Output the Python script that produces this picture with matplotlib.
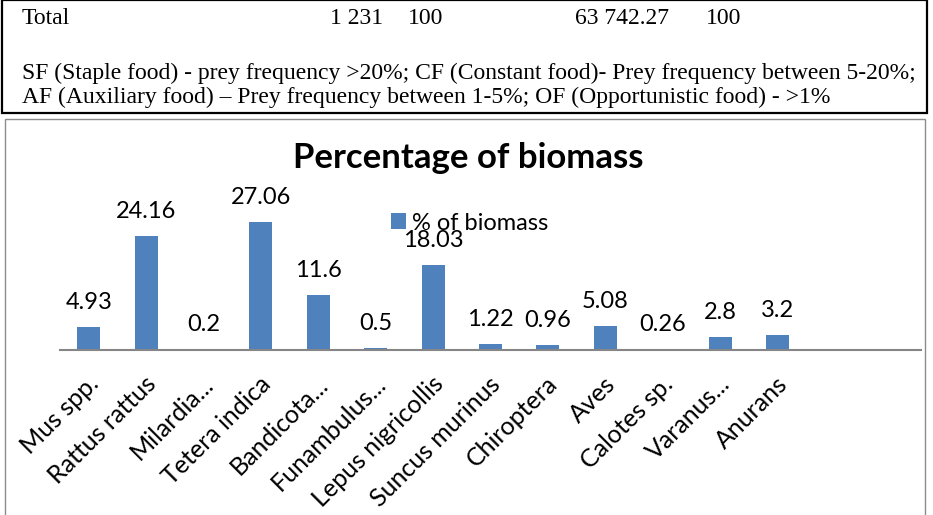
import matplotlib
matplotlib.use("Agg")
import matplotlib.pyplot as plt
from matplotlib.patches import Rectangle
from matplotlib.transforms import ScaledTranslation

categories = ["Mus spp.", "Rattus rattus", "Milardia...", "Tetera indica", "Bandicota...",
              "Funambulus...", "Lepus nigricollis", "Suncus murinus", "Chiroptera", "Aves",
              "Calotes sp.", "Varanus...", "Anurans", "", ""]
biomass = [4.93, 24.16, 0.2, 27.06, 11.6, 0.5, 18.03, 1.22, 0.96, 5.08, 0.26, 2.8, 3.2, None, None]
value_labels = ["4.93", "24.16", "0.2", "27.06", "11.6", "0.5", "18.03", "1.22", "0.96",
                "5.08", "0.26", "2.8", "3.2", "", ""]

total_row = ["Total", "1 231", "100", "63 742.27", "100"]
total_x = [22, 330, 408, 575, 706]
note_lines = ["SF (Staple food) - prey frequency >20%; CF (Constant food)- Prey frequency between 5-20%;",
              "AF (Auxiliary food) \u2013 Prey frequency between 1-5%; OF (Opportunistic food) - >1%"]

W, H = 933, 515
fig = plt.figure(figsize=(W / 100, H / 100), dpi=100)
sans = "Lato"
serif = "Liberation Serif"

# table fragment at the top
fig.add_artist(Rectangle((2 / W, 1 - 113 / H), 925 / W, 113 / H, transform=fig.transFigure,
                         fill=False, edgecolor="black", linewidth=1.6))
for t, xp in zip(total_row, total_x):
    fig.text(xp / W, 1 - 19 / H, t, family=serif, fontsize=17, va="center")
fig.text(22 / W, 1 - 73 / H, note_lines[0], family=serif, fontsize=17, va="center")
fig.text(22 / W, 1 - 97 / H, note_lines[1], family=serif, fontsize=17, va="center")

# chart frame
fig.add_artist(Rectangle((5 / W, -0.01), 920 / W, 1 - 119 / H + 0.01, transform=fig.transFigure,
                         fill=False, edgecolor="#8c8c8c", linewidth=1))

ax = fig.add_axes([60 / W, (H - 350) / H, 861 / W, 142 / H])
x = list(range(len(categories)))
heights = [v if v is not None else 0 for v in biomass]
ax.bar(x, heights, width=0.4, color="#4F81BD", label="% of biomass")
for xi, h, lab in zip(x, heights, value_labels):
    if lab:
        ax.annotate(lab, (xi, h), xytext=(0, 13), textcoords="offset points",
                    ha="center", va="baseline", fontsize=17, family=sans)

ax.set_xlim(-0.5, len(categories) - 0.5)
ax.set_ylim(0, 30)
ax.set_yticks([])
ax.set_xticks(x)
ax.set_xticklabels(categories, rotation=45, ha="right", va="top", rotation_mode="anchor",
                   fontsize=18, family=sans)
ax.tick_params(axis="x", length=0, pad=16)
shift = ScaledTranslation(-2 / 100, 0, fig.dpi_scale_trans)
for lbl in ax.get_xticklabels():
    lbl.set_transform(lbl.get_transform() + shift)
for s in ["top", "right", "left"]:
    ax.spines[s].set_visible(False)
ax.spines["bottom"].set_color("#868686")
ax.spines["bottom"].set_linewidth(1.5)
ax.patch.set_alpha(0)

fig.text(468 / W, 1 - 158 / H, "Percentage of biomass", ha="center", va="center",
         fontsize=25, fontweight="bold", family=sans)
ax.legend(loc="center left", bbox_to_anchor=(391 / W, 1 - 223 / H), bbox_transform=fig.transFigure,
          frameon=False, borderpad=0, borderaxespad=0,
          handlelength=0.64, handleheight=0.64, handletextpad=0.25,
          prop={"family": sans, "size": 17})

fig.savefig("out.png", dpi=100)
